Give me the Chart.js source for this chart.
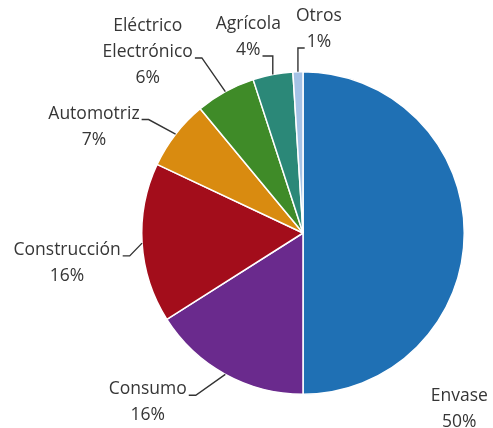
<!DOCTYPE html>
<html>
<head>
<meta charset="utf-8">
<script src="https://cdn.jsdelivr.net/npm/chart.js@4"></script>
<style>
  html, body { margin: 0; padding: 0; background: #fff; }
  #wrap { width: 493px; height: 428px; }
</style>
</head>
<body>
<div id="wrap"><canvas id="pieChart"></canvas></div>
<script>
/* ───────────── DATA ───────────── */
const sectors = ["Envase", "Consumo", "Construcción", "Automotriz", "Eléctrico Electrónico", "Agrícola", "Otros"];
const labelLines = [["Envase"], ["Consumo"], ["Construcción"], ["Automotriz"], ["Eléctrico", "Electrónico"], ["Agrícola"], ["Otros"]];
const shares = [50, 16, 16, 7, 6, 4, 1];
const sliceColors = ["#1f70b4", "#6a2a8d", "#a30d1b", "#d98b10", "#3f8b28", "#2b8878", "#a4c2e6"];

/* label placement, px offsets from pie centre (r = 162) */
const labelLayout = [
  { dx: 157, dy: 164, leader: null },
  { dx: -156, dy: 157, leader: { line: 0, side: "right", elbow: false } },
  { dx: -237, dy: 17, leader: { line: 0, side: "right", elbow: false } },
  { dx: -210, dy: -120, leader: { line: 0, side: "right", elbow: false } },
  { dx: -156, dy: -208, leader: { line: 1, side: "right", elbow: false } },
  { dx: -55, dy: -210, leader: { line: 1, side: "right", elbow: true } },
  { dx: 16, dy: -218, leader: { line: 1, side: "left", elbow: true } }
];

const FONT = '17.5px "Open Sans", Lato, sans-serif';
const LINE_H = 26;

/* ───────────── LABEL PLUGIN ───────────── */
const outsideLabels = {
  id: "outsideLabels",
  afterDatasetsDraw(chart) {
    const { ctx } = chart;
    const arcs = chart.getDatasetMeta(0).data;
    const total = shares.reduce((a, b) => a + b, 0);
    ctx.save();
    ctx.font = FONT;
    ctx.fillStyle = "#363636";
    ctx.strokeStyle = "#333333";
    ctx.lineWidth = 1.4;
    ctx.textAlign = "center";
    ctx.textBaseline = "middle";

    arcs.forEach((arc, i) => {
      const { x, y, startAngle, endAngle, outerRadius } = arc.getProps(["x", "y", "startAngle", "endAngle", "outerRadius"], true);
      const k = outerRadius / 162;
      const lay = labelLayout[i];
      const cx = x + lay.dx * k;
      const top = y + lay.dy * k;
      const lines = [...labelLines[i], Math.round(shares[i] / total * 100) + "%"];

      lines.forEach((t, j) => ctx.fillText(t, cx, top + j * LINE_H));

      if (lay.leader) {
        const mid = (startAngle + endAngle) / 2;
        const ax = x + Math.cos(mid) * outerRadius;
        const ay = y + Math.sin(mid) * outerRadius;
        const ln = lines[lay.leader.line];
        const w = ctx.measureText(ln).width;
        const sx = lay.leader.side === "right" ? cx + w / 2 + 2 : cx - w / 2 - 2;
        const sy = top + lay.leader.line * LINE_H + 6;
        const hx = lay.leader.elbow ? ax : sx + (lay.leader.side === "right" ? 7 : -7);
        ctx.beginPath();
        ctx.moveTo(sx, sy);
        ctx.lineTo(hx, sy);
        ctx.lineTo(ax, ay);
        ctx.stroke();
      }
    });
    ctx.restore();
  }
};

/* ───────────── CHART ───────────── */
const ctx = document.getElementById("pieChart").getContext("2d");
new Chart(ctx, {
  type: "pie",
  data: {
    labels: sectors,
    datasets: [{
      data: shares,
      backgroundColor: sliceColors,
      borderColor: "#ffffff",
      borderWidth: 1.5,
      hoverOffset: 0
    }]
  },
  options: {
    responsive: true,
    maintainAspectRatio: false,
    animation: false,
    layout: { padding: { left: 141, right: 28, top: 70, bottom: 32 } },
    plugins: {
      legend: { display: false },
      tooltip: { enabled: false }
    }
  },
  plugins: [outsideLabels]
});
</script>
</body>
</html>
